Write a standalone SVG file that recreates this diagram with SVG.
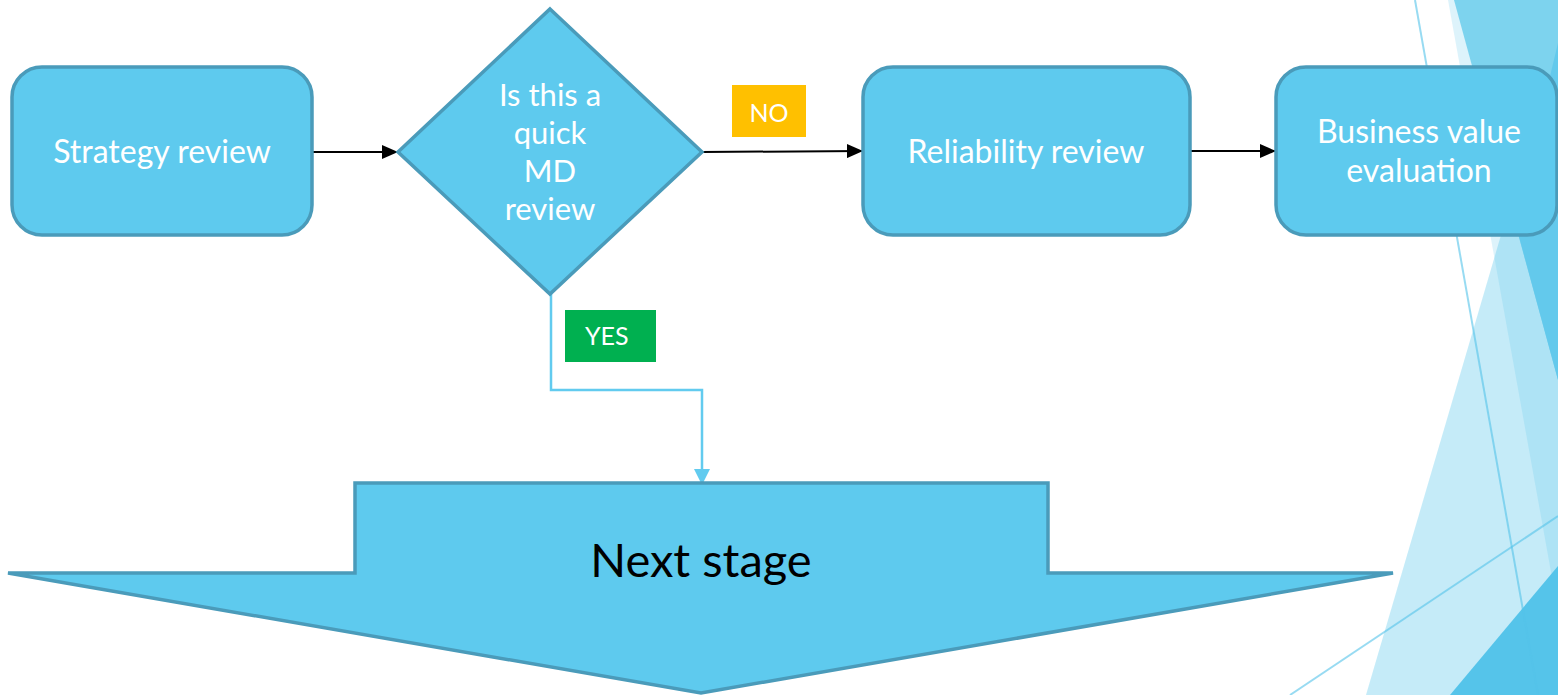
<svg xmlns="http://www.w3.org/2000/svg" width="1558" height="695" viewBox="0 0 1558 695">
  <defs>
    <style>
      .box { fill: #5ECAEE; stroke: #4A9BBA; stroke-width: 3.5; }
      .lbl { font-family: Lato, "Noto Sans", sans-serif; font-size: 32px; fill: #FFFFFF; text-anchor: middle; }
      .dia { font-size: 31px; }
      .tag { font-family: Lato, "Noto Sans", sans-serif; font-size: 25px; fill: #FFFFFF; }
      .flow { stroke: #000000; stroke-width: 2; fill: none; marker-end: url(#arrowBlack); }
      .yes { stroke: #62CBEF; stroke-width: 2.5; fill: none; marker-end: url(#arrowBlue); }
      .facet { fill: rgb(84,195,234); }
      .thin { stroke: rgb(84,195,234); stroke-opacity: 0.6; stroke-width: 2; }
    </style>
    <marker id="arrowBlack" viewBox="0 0 16 14" refX="16" refY="7" markerWidth="16" markerHeight="14" markerUnits="userSpaceOnUse" orient="auto">
      <path d="M0,0 L16,7 L0,14 Z" fill="#000000"/>
    </marker>
    <marker id="arrowBlue" viewBox="0 0 16 16" refX="15" refY="8" markerWidth="16" markerHeight="16" markerUnits="userSpaceOnUse" orient="auto">
      <path d="M0,0 L16,8 L0,16 Z" fill="#62CBEF"/>
    </marker>
  </defs>

  <rect x="0" y="0" width="1558" height="695" fill="#FFFFFF"/>

  <!-- facet decoration on the right edge -->
  <g id="facets">
    <polygon class="facet" fill-opacity="0.2" points="1448,0 1558,0 1558,611"/>
    <polygon class="facet" fill-opacity="0.34" points="1366,695 1570,0 1570,695"/>
    <polygon points="1454,0 1558,0 1558,380" fill="#7DD3EE"/>
    <polygon points="1558,43 1515,222 1558,380" fill="#63C9EC"/>
    <polygon points="1558,566 1450,695 1558,695" fill="#55C4EA"/>
    <line class="thin" x1="1415" y1="0" x2="1538" y2="695"/>
    <line class="thin" x1="1290" y1="695" x2="1558" y2="516"/>
  </g>

  <!-- connectors -->
  <g id="connectors">
    <line class="flow" x1="313" y1="152" x2="398" y2="152"/>
    <line class="flow" x1="702" y1="152" x2="863" y2="151"/>
    <line class="flow" x1="1190" y1="151" x2="1276" y2="151"/>
    <polyline class="yes" points="551,294 551,390 702,390 702,484"/>
  </g>

  <g id="next-stage">
    <polygon class="box" points="355,483 1048,483 1048,573 1393,573 701,693 8,573 355,573"/>
    <text x="701" y="577" font-family="Lato, 'Noto Sans', sans-serif" font-size="47" fill="#000000" text-anchor="middle">Next stage</text>
  </g>

  <g id="strategy-review">
    <rect class="box" x="12" y="67" width="300" height="168" rx="30"/>
    <text class="lbl" x="162" y="163">Strategy review</text>
  </g>

  <g id="quick-md-review">
    <polygon class="box" points="550,9 702,152 550,294 398,152"/>
    <text class="lbl dia" x="550" y="106">Is this a</text>
    <text class="lbl dia" x="550" y="144">quick</text>
    <text class="lbl dia" x="550" y="182">MD</text>
    <text class="lbl dia" x="550" y="220">review</text>
  </g>

  <g id="reliability-review">
    <rect class="box" x="863" y="67" width="327" height="168" rx="30"/>
    <text class="lbl" x="1026" y="163">Reliability review</text>
  </g>

  <g id="business-value">
    <rect class="box" x="1276" y="67" width="281" height="168" rx="30"/>
    <text class="lbl" x="1419" y="143">Business value</text>
    <text class="lbl" x="1419" y="182">evaluation</text>
  </g>

  <g id="no-tag">
    <rect x="732" y="85" width="74" height="52" fill="#FFC000"/>
    <text class="tag" x="769" y="122" text-anchor="middle">NO</text>
  </g>

  <g id="yes-tag">
    <rect x="565" y="310" width="91" height="52" fill="#00B050"/>
    <text class="tag" x="585" y="345">YES</text>
  </g>
</svg>
